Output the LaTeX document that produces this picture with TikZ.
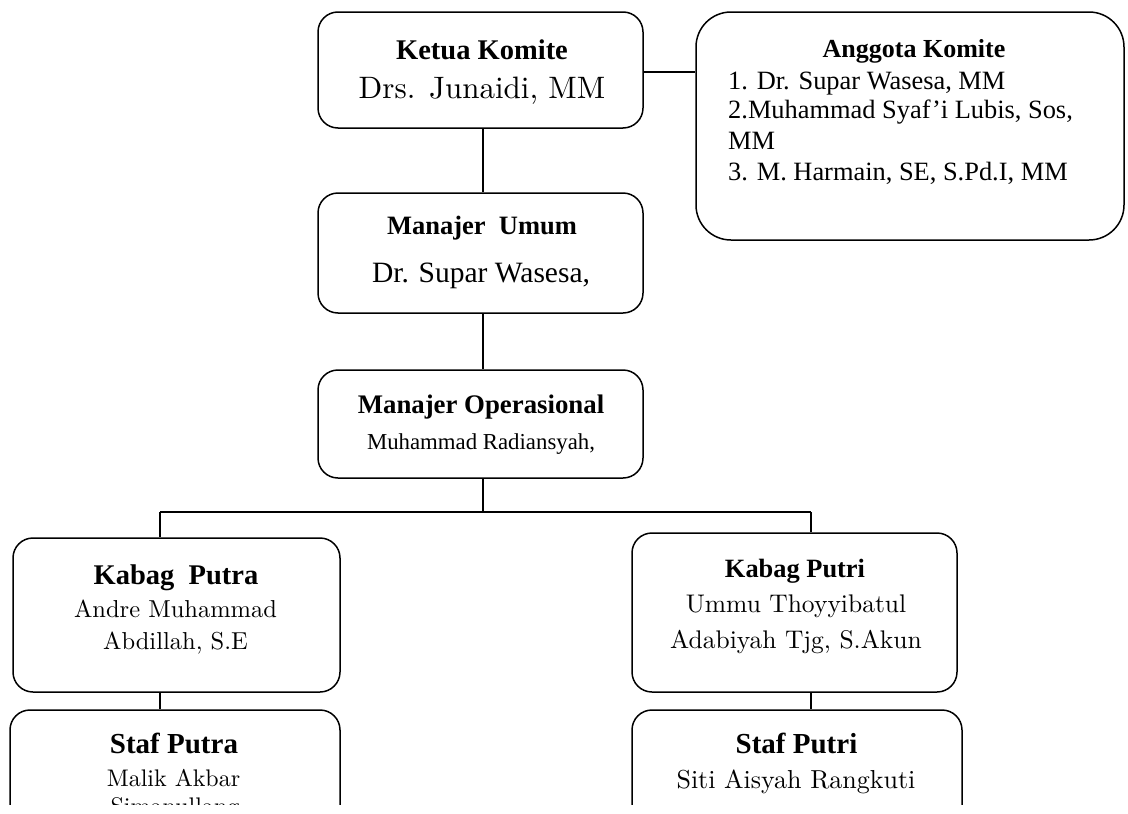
\documentclass[tikz,border=0pt]{standalone}
\usepackage{fontspec}
\usepackage{graphicx}
\setmainfont{Liberation Serif}
\newfontfamily\palfont{Latin Modern Roman}
\newcommand\hb[1]{\fontsize{#1}{#1}\selectfont\bfseries}
\newcommand\tr[1]{\fontsize{#1}{#1}\selectfont}
\newcommand\pl[2]{\scalebox{\fpeval{#1/10}}{\palfont\fontsize{10}{12}\selectfont #2}}
\begin{document}
\begin{tikzpicture}[x=1pt,y=-1pt,
  box/.style={draw, line width=1.5pt, rounded corners=20pt, inner sep=0pt, minimum width=#1},
  txt/.style={anchor=base, inner sep=0pt},
  link/.style={line width=1.3pt}]
\useasboundingbox (0,0) rectangle (1128,814);
% boxes
\node[box=325pt, minimum height=116pt] (ketua) at (480.5,70) {};
\node[box=428pt, minimum height=228pt, rounded corners=35pt] (anggota) at (910,126) {};
\node[box=325pt, minimum height=120pt] (umum) at (480.5,253) {};
\node[box=325pt, minimum height=108pt] (ops) at (480.5,424) {};
\node[box=327pt, minimum height=154pt] (kputra) at (176.5,615) {};
\node[box=325pt, minimum height=159pt] (kputri) at (794.5,612.5) {};
\begin{scope}
\clip (0,0) rectangle (1128,804);
\node[box=330pt, minimum height=120pt] (sputra) at (175,770) {};
\node[box=330pt, minimum height=120pt] (sputri) at (797,770) {};
\node[txt] (sp3) at (175,814) {\pl{24}{Simanullang}};
\end{scope}
% texts
\node[txt] (k1) at (482,59) {\hb{28.5}Ketua Komite};
\node[txt] (k2) at (482,98) {\pl{31}{Drs. Junaidi, MM}};
\node[txt] (a0) at (914,57) {\hb{26}Anggota Komite};
\node[txt, anchor=base west] (a1) at (728,89) {\tr{26.4}1. Dr. Supar Wasesa, MM};
\node[txt, anchor=base west] (a2) at (728,118) {\tr{26.4}2.Muhammad Syaf’i Lubis, Sos,};
\node[txt, anchor=base west] (a3) at (728,149) {\tr{26.4}MM};
\node[txt, anchor=base west] (a4) at (728,180) {\tr{26.4}3. M. Harmain, SE, S.Pd.I, MM};
\node[txt] (u1) at (482,234) {\hb{26.5}Manajer\ \ Umum};
\node[txt] (u2) at (481,282) {\tr{29.5}Dr. Supar Wasesa,};
\node[txt] (o1) at (481,413) {\hb{26.8}Manajer Operasional};
\node[txt] (o2) at (481,449) {\tr{22.8}Muhammad Radiansyah,};
\node[txt] (kp1) at (176,584) {\hb{28.5}Kabag\ \ Putra};
\node[txt] (kp2) at (175.5,617) {\pl{24.5}{Andre Muhammad}};
\node[txt] (kp3) at (175.5,649) {\pl{24.5}{Abdillah, S.E}};
\node[txt] (kq1) at (795,577) {\hb{26.4}Kabag Putri};
\node[txt] (kq2) at (796,612) {\pl{25.5}{Ummu Thoyyibatul}};
\node[txt] (kq3) at (796,648) {\pl{25.5}{Adabiyah Tjg, S.Akun}};
\node[txt] (sp1) at (174,753) {\hb{29}Staf Putra};
\node[txt] (sp2) at (173.5,786) {\pl{24}{Malik Akbar}};
\node[txt] (sq1) at (796.5,753) {\hb{29}Staf Putri};
\node[txt] (sq2) at (796,788) {\pl{26}{Siti Aisyah Rangkuti}};
% connectors
\coordinate (ka) at (643,72);
\coordinate (jm) at (483,512);
\coordinate (jl) at (160,512);
\coordinate (jr) at (811,512);
\draw[link] (ka) -- (ka -| anggota.west);
\draw[link] (ketua.south -| jm) -- (umum.north -| jm);
\draw[link] (umum.south -| jm) -- (ops.north -| jm);
\draw[link] (ops.south -| jm) -- (jm);
\draw[link] (jl) -- (jr);
\draw[link] (jl) -- (kputra.north -| jl);
\draw[link] (jr) -- (kputri.north -| jr);
\draw[link] (kputra.south -| jl) -- (sputra.north -| jl);
\draw[link] (kputri.south -| jr) -- (sputri.north -| jr);
\end{tikzpicture}
\end{document}
